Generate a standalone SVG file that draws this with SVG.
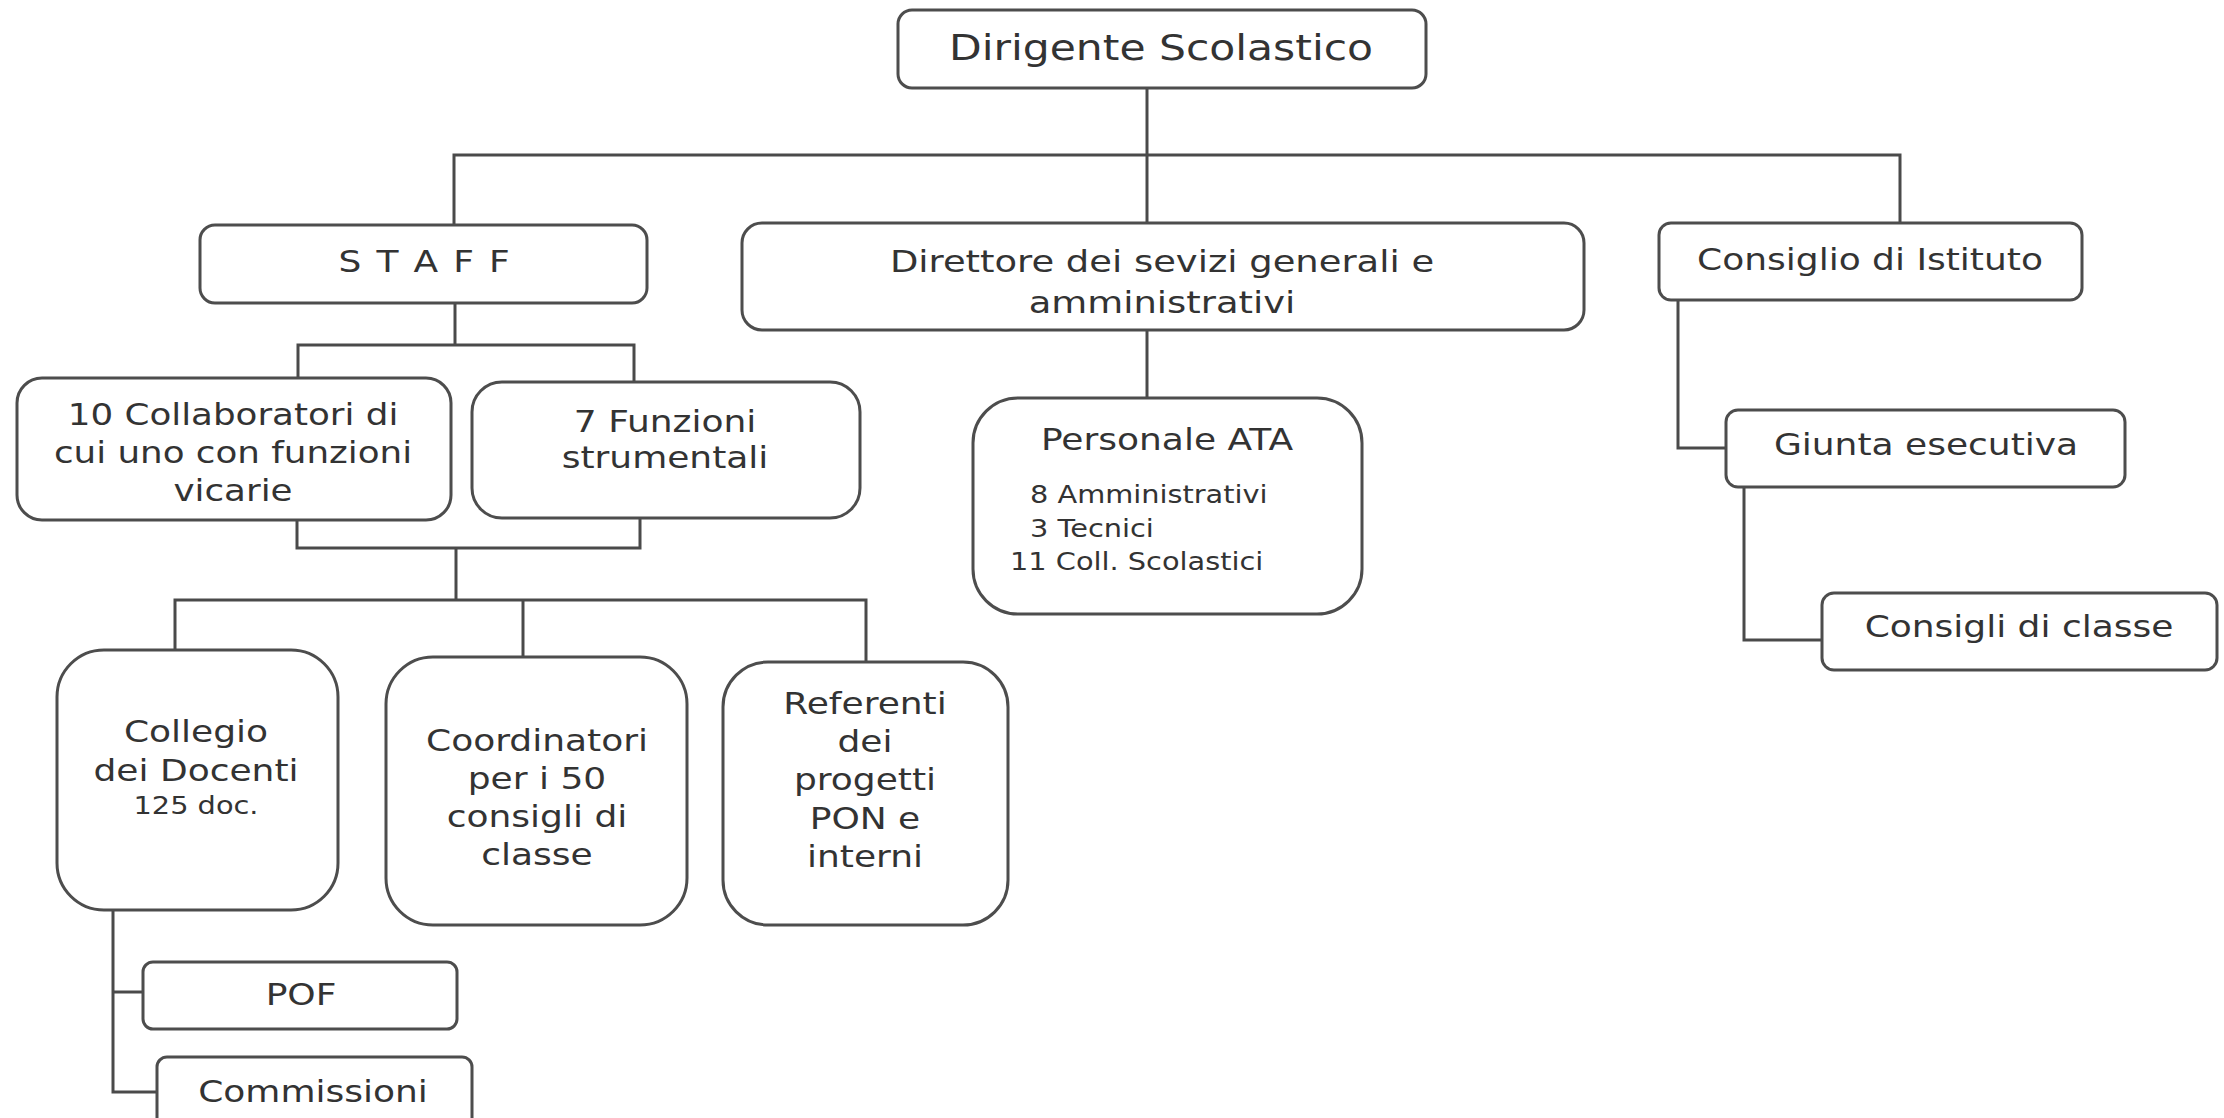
<svg xmlns="http://www.w3.org/2000/svg" width="2224" height="1118" viewBox="0 0 2224 1118">
<style>
  .box { fill: #ffffff; stroke: #4d4d4d; stroke-width: 3; }
  .con { fill: none; stroke: #4a4a4a; stroke-width: 3; }
  text { font-family: "DejaVu Sans", Verdana, "Liberation Sans", sans-serif; fill: #333333; text-anchor: middle; }
  .f30 { font-size: 30px; }
  .f24 { font-size: 24px; }
  .big { font-size: 36px; }
  .l { text-anchor: start; }
</style>
<rect x="0" y="0" width="2224" height="1118" fill="#ffffff"/>
<g id="connectors">
  <path class="con" d="M1147 88 V224"/>
  <path class="con" d="M454 225 V155 H1900 V223"/>
  <path class="con" d="M455 303 V345"/>
  <path class="con" d="M298 378 V345 H634 V382"/>
  <path class="con" d="M297 520 V548 H640 V518"/>
  <path class="con" d="M456 548 V600"/>
  <path class="con" d="M175 650 V600 H866 V662"/>
  <path class="con" d="M523 600 V657"/>
  <path class="con" d="M1147 330 V398"/>
  <path class="con" d="M1678 300 V448 H1726"/>
  <path class="con" d="M1744 487 V640 H1822"/>
  <path class="con" d="M113 910 V1092 H157"/>
  <path class="con" d="M113 992 H143"/>
</g>
<g id="dirigente">
  <rect class="box" x="898" y="10" width="528" height="78" rx="14"/>
  <text class="big" transform="translate(1161 60) scale(1.18 1)">Dirigente Scolastico</text>
</g>
<g id="staff">
  <rect class="box" x="200" y="225" width="447" height="78" rx="15"/>
  <text class="f30" letter-spacing="1.5" transform="translate(425 272) scale(1.2 1)">S T A F F</text>
</g>
<g id="direttore">
  <rect class="box" x="742" y="223" width="842" height="107" rx="20"/>
  <text class="f30" transform="translate(1162 272) scale(1.23 1)">Direttore dei sevizi generali e</text>
  <text class="f30" transform="translate(1162 313) scale(1.23 1)">amministrativi</text>
</g>
<g id="consiglio-istituto">
  <rect class="box" x="1659" y="223" width="423" height="77" rx="12"/>
  <text class="f30" transform="translate(1870 270) scale(1.2 1)">Consiglio di Istituto</text>
</g>
<g id="giunta">
  <rect class="box" x="1726" y="410" width="399" height="77" rx="12"/>
  <text class="f30" transform="translate(1926 455) scale(1.2 1)">Giunta esecutiva</text>
</g>
<g id="consigli-classe">
  <rect class="box" x="1822" y="593" width="395" height="77" rx="12"/>
  <text class="f30" transform="translate(2019 637) scale(1.2 1)">Consigli di classe</text>
</g>
<g id="personale-ata">
  <rect class="box" x="973" y="398" width="389" height="216" rx="45"/>
  <text class="f30" transform="translate(1167 450) scale(1.2 1)">Personale ATA</text>
  <text class="f24 l" transform="translate(1030 503) scale(1.2 1)">8 Amministrativi</text>
  <text class="f24 l" transform="translate(1030 537) scale(1.2 1)">3 Tecnici</text>
  <text class="f24 l" transform="translate(1010 570) scale(1.2 1)">11 Coll. Scolastici</text>
</g>
<g id="collaboratori">
  <rect class="box" x="17" y="378" width="434" height="142" rx="25"/>
  <text class="f30" transform="translate(233 425) scale(1.19 1)">10 Collaboratori di</text>
  <text class="f30" transform="translate(233 463) scale(1.19 1)">cui uno con funzioni</text>
  <text class="f30" transform="translate(233 501) scale(1.19 1)">vicarie</text>
</g>
<g id="funzioni">
  <rect class="box" x="472" y="382" width="388" height="136" rx="30"/>
  <text class="f30" transform="translate(665 432) scale(1.2 1)">7 Funzioni</text>
  <text class="f30" transform="translate(665 468) scale(1.2 1)">strumentali</text>
</g>
<g id="collegio">
  <rect class="box" x="57" y="650" width="281" height="260" rx="47"/>
  <text class="f30" transform="translate(196 742) scale(1.2 1)">Collegio</text>
  <text class="f30" transform="translate(196 781) scale(1.2 1)">dei Docenti</text>
  <text class="f24" transform="translate(196 814) scale(1.2 1)">125 doc.</text>
</g>
<g id="coordinatori">
  <rect class="box" x="386" y="657" width="301" height="268" rx="47"/>
  <text class="f30" transform="translate(537 751) scale(1.2 1)">Coordinatori</text>
  <text class="f30" transform="translate(537 789) scale(1.2 1)">per i 50</text>
  <text class="f30" transform="translate(537 827) scale(1.2 1)">consigli di</text>
  <text class="f30" transform="translate(537 865) scale(1.2 1)">classe</text>
</g>
<g id="referenti">
  <rect class="box" x="723" y="662" width="285" height="263" rx="45"/>
  <text class="f30" transform="translate(865 714) scale(1.2 1)">Referenti</text>
  <text class="f30" transform="translate(865 752) scale(1.2 1)">dei</text>
  <text class="f30" transform="translate(865 790) scale(1.2 1)">progetti</text>
  <text class="f30" transform="translate(865 829) scale(1.2 1)">PON e</text>
  <text class="f30" transform="translate(865 867) scale(1.2 1)">interni</text>
</g>
<g id="pof">
  <rect class="box" x="143" y="962" width="314" height="67" rx="10"/>
  <text class="f30" transform="translate(301 1005) scale(1.2 1)">POF</text>
</g>
<g id="commissioni">
  <rect class="box" x="157" y="1057" width="315" height="80" rx="10"/>
  <text class="f30" transform="translate(313 1102) scale(1.2 1)">Commissioni</text>
</g>
</svg>
